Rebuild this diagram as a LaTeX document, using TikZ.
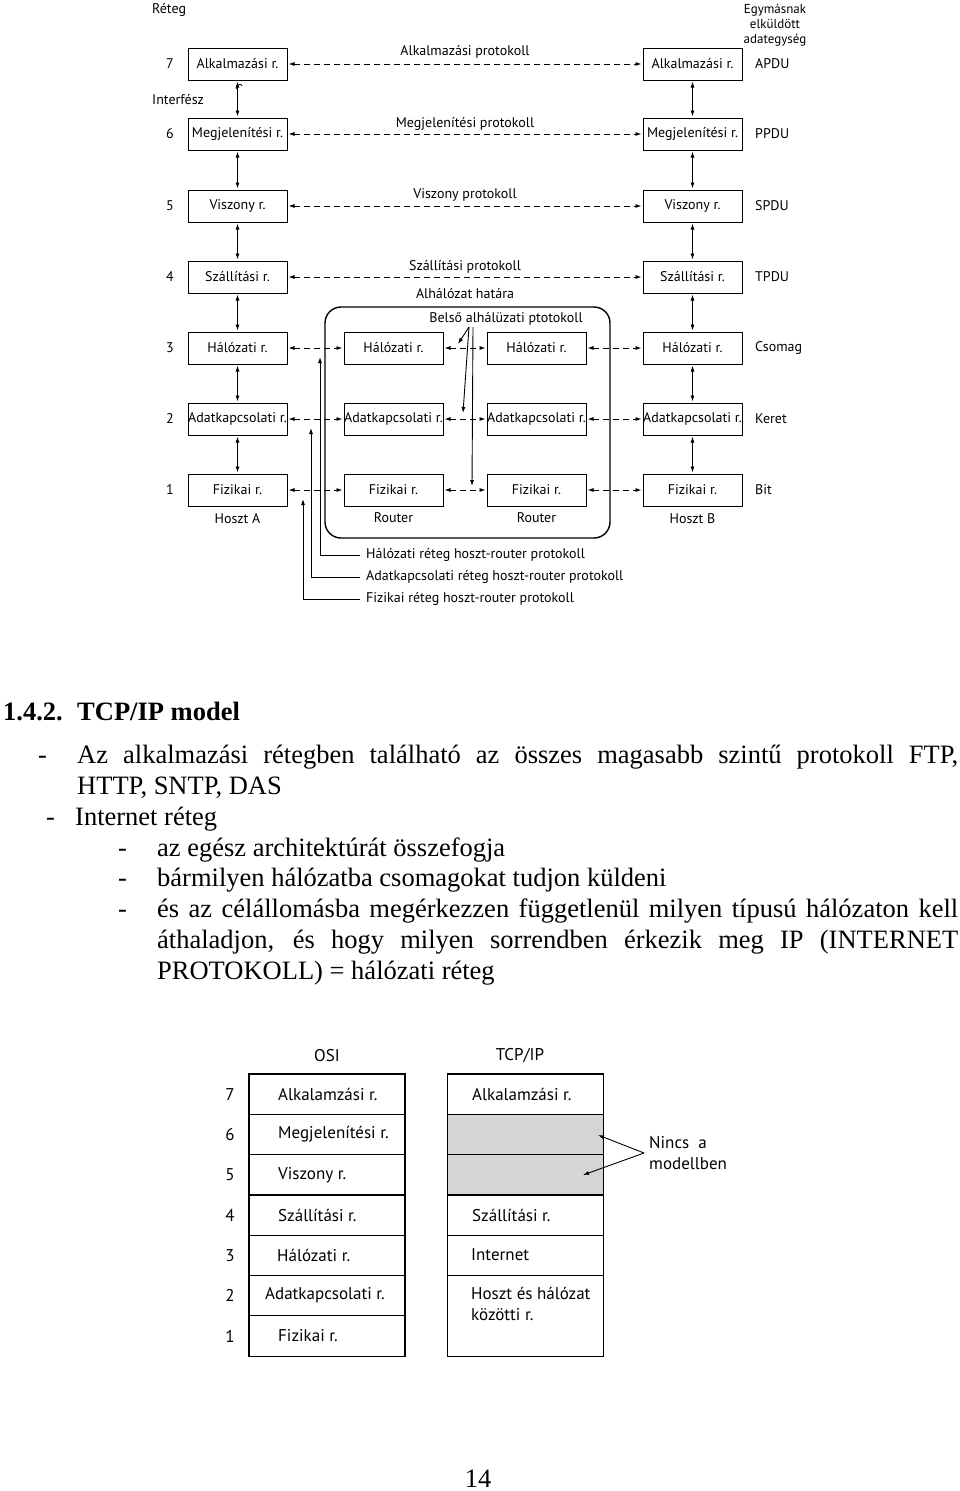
\documentclass[tikz,border=0pt]{standalone}
\usepackage{fontspec}
\setmainfont{Liberation Serif}
\newfontfamily\dfont{PT Sans}
\usetikzlibrary{arrows.meta}
\definecolor{nogray}{HTML}{D3D5D7}
\begin{document}
\begin{tikzpicture}[x=1pt,y=-1pt,
  >={Latex[length=6pt,width=4pt]},
  lay/.style={draw, line width=1pt, minimum width=99pt, minimum height=32pt, inner sep=0pt, font=\dfont\fontsize{14}{16}\selectfont},
  lbl/.style={font=\dfont\fontsize{14}{16}\selectfont, inner sep=0pt},
  darr/.style={<->, line width=0.9pt, dash pattern=on 6pt off 4pt, shorten <=1pt, shorten >=1pt},
  varr/.style={<->, line width=0.9pt, shorten <=1pt, shorten >=1pt},
  lead/.style={->, line width=0.9pt},
  body/.style={font=\fontsize{26.5}{31}\selectfont, inner sep=0pt, anchor=base west},
  cell/.style={draw, line width=1.2pt, minimum width=156pt, minimum height=40.3pt, inner sep=0pt},
  ctext/.style={font=\dfont\fontsize{17}{21}\selectfont, inner sep=0pt, anchor=west},
]
\useasboundingbox (0,0) rectangle (960,1491);
\fill[white] (0,0) rectangle (960,1491);

% ---------- top diagram ----------
\node[lbl, anchor=west] (reteg) at (152,10) {Réteg};
\node[lbl, anchor=west] (interf) at (152,100) {Interfész};
\node[lbl, align=center, font=\dfont\fontsize{13}{15}\selectfont] (egym) at (775,25) {Egymásnak\\elküldött\\adategység};

\foreach \n/\y in {7/64,6/134,5/206,4/277,3/348,2/419,1/490}
  \node[lbl] (num\n) at (170,\y) {\n};

\node[lay] (a7) at (237.5,64) {Alkalmazási r.};
\node[lay] (a6) at (237.5,134) {Megjelenítési r.};
\node[lay] (a5) at (237.5,206) {Viszony r.};
\node[lay] (a4) at (237.5,277) {Szállítási r.};
\node[lay] (a3) at (237.5,348) {Hálózati r.};
\node[lay] (a2) at (237.5,419) {Adatkapcsolati r.};
\node[lay] (a1) at (237.5,490) {Fizikai r.};

\node[lay] (b7) at (692.5,64) {Alkalmazási r.};
\node[lay] (b6) at (692.5,134) {Megjelenítési r.};
\node[lay] (b5) at (692.5,206) {Viszony r.};
\node[lay] (b4) at (692.5,277) {Szállítási r.};
\node[lay] (b3) at (692.5,348) {Hálózati r.};
\node[lay] (b2) at (692.5,419) {Adatkapcsolati r.};
\node[lay] (b1) at (692.5,490) {Fizikai r.};

\node[lay] (r3) at (393.5,348) {Hálózati r.};
\node[lay] (r2) at (393.5,419) {Adatkapcsolati r.};
\node[lay] (r1) at (393.5,490) {Fizikai r.};
\node[lay] (s3) at (536.5,348) {Hálózati r.};
\node[lay] (s2) at (536.5,419) {Adatkapcsolati r.};
\node[lay] (s1) at (536.5,490) {Fizikai r.};

\node[lbl, anchor=west] (apdu) at (755,64) {APDU};
\node[lbl, anchor=west] (ppdu) at (755,134) {PPDU};
\node[lbl, anchor=west] (spdu) at (755,206) {SPDU};
\node[lbl, anchor=west] (tpdu) at (755,277) {TPDU};
\node[lbl, anchor=west] (csom) at (755,348) {Csomag};
\node[lbl, anchor=west] (keret) at (755,419) {Keret};
\node[lbl, anchor=west] (bit) at (755,490) {Bit};

\node[lbl] (hosta) at (237.5,519) {Hoszt A};
\node[lbl] (hostb) at (692.5,519) {Hoszt B};
\node[lbl] (rt1) at (393.5,518) {Router};
\node[lbl] (rt2) at (536.5,518) {Router};

% subnet boundary
\draw[line width=1.4pt, rounded corners=16pt] (325,307) rectangle (610,538);
\node[lbl] (alh) at (465,294) {Alhálózat határa};
\node[lbl] (belso) at (506,319) {Belső alhálüzati ptotokoll};

% protocol labels
\node[lbl] (p7) at (465,52) {Alkalmazási protokoll};
\node[lbl] (p6) at (465,124) {Megjelenítési protokoll};
\node[lbl] (p5) at (465,195) {Viszony protokoll};
\node[lbl] (p4) at (465,267) {Szállítási protokoll};

% vertical interface arrows
\foreach \c in {a,b}{
  \draw[varr] (\c7) -- (\c6);
  \draw[varr] (\c6) -- (\c5);
  \draw[varr] (\c5) -- (\c4);
  \draw[varr] (\c4) -- (\c3);
  \draw[varr] (\c3) -- (\c2);
  \draw[varr] (\c2) -- (\c1);
}
\draw[line width=0.7pt] (236,89) .. controls (238,84) and (241,83) .. (242,86);

% horizontal dashed peer arrows
\foreach \n in {7,6,5,4} \draw[darr] (a\n) -- (b\n);
\foreach \n in {3,2,1}{
  \draw[darr] (a\n) -- (r\n);
  \draw[darr] (r\n) -- (s\n);
  \draw[darr] (s\n) -- (b\n);
}

% inner subnet protocol pointers
\coordinate (bp1) at (469,327);
\coordinate (bp2) at (473,327);
\coordinate (t3) at (458,344);
\coordinate (t2) at (463,413);
\coordinate (t1) at (472,486);
\draw[lead] (bp1) -- (t3);
\draw[lead] (bp1) -- (t2);
\draw[lead] (bp2) -- (t1);

% host-router protocol leaders
\node[lbl, anchor=west] (hrh) at (366,555) {Hálózati réteg hoszt-router protokoll};
\node[lbl, anchor=west] (hra) at (366,577) {Adatkapcsolati réteg hoszt-router protokoll};
\node[lbl, anchor=west] (hrf) at (366,599) {Fizikai réteg hoszt-router protokoll};
\coordinate (lh) at (320,357);
\coordinate (la) at (311,428);
\coordinate (lf) at (303,499);
\draw[lead] ([xshift=-6pt]hrh.west) -| (lh);
\draw[lead] ([xshift=-6pt]hra.west) -| (la);
\draw[lead] ([xshift=-6pt]hrf.west) -| (lf);

% ---------- text ----------
\node[body, font=\bfseries\fontsize{26.5}{31}\selectfont] (hnum) at (3,720) {1.4.2.};
\node[body, font=\bfseries\fontsize{26.5}{31}\selectfont] (htit) at (77,720) {TCP/IP model};

\node[body] (d1) at (38,763) {-};
\node[body] (l1) at (77,763) {\makebox[881pt][s]{Az alkalmazási rétegben található az összes magasabb szintű protokoll FTP,}};
\node[body] (l2) at (77,794) {HTTP, SNTP, DAS};
\node[body] (d2) at (46,825) {-};
\node[body] (l3) at (75,825) {Internet réteg};
\node[body] (d3) at (118,856) {-};
\node[body] (l4) at (157,856) {az egész architektúrát összefogja};
\node[body] (d4) at (118,886) {-};
\node[body] (l5) at (157,886) {bármilyen hálózatba csomagokat tudjon küldeni};
\node[body] (d5) at (118,917) {-};
\node[body] (l6) at (157,917) {\makebox[801pt][s]{és az célállomásba megérkezzen függetlenül milyen típusú hálózaton kell}};
\node[body] (l7) at (157,948) {\makebox[801pt][s]{áthaladjon, és hogy milyen sorrendben érkezik meg IP (INTERNET}};
\node[body] (l8) at (157,979) {PROTOKOLL) = hálózati réteg};

% ---------- bottom diagram ----------
\node[ctext, anchor=center] (osi) at (327,1056) {OSI};
\node[ctext, anchor=center] (tcp) at (520,1056) {TCP/IP};

\foreach \n/\y in {7/1094.15,6/1134.45,5/1174.75,4/1215.05,3/1255.35,2/1295.65,1/1335.95}{
  \node[cell] (o\n) at (327,\y) {};
  \node[ctext, anchor=center] (on\n) at (230,\y) {\n};
}
\node[ctext] (ot7) at (278,1094) {Alkalamzási r.};
\node[ctext] (ot6) at (278,1134) {Megjelenítési r.};
\node[ctext] (ot5) at (278,1175) {Viszony r.};
\node[ctext] (ot4) at (278,1215) {Szállítási r.};
\node[ctext] (ot3) at (277,1255) {Hálózati r.};
\node[ctext] (ot2) at (265,1295) {Adatkapcsolati r.};
\node[ctext] (ot1) at (278,1336) {Fizikai r.};

\node[cell] (c7) at (525.5,1094.15) {};
\node[cell, fill=nogray] (c6) at (525.5,1134.45) {};
\node[cell, fill=nogray] (c5) at (525.5,1174.75) {};
\node[cell] (c4) at (525.5,1215.05) {};
\node[cell] (c3) at (525.5,1255.35) {};
\node[cell, minimum height=80.6pt] (c1) at (525.5,1315.8) {};
\node[ctext] (ct7) at (472,1094) {Alkalamzási r.};
\node[ctext] (ct4) at (472,1215) {Szállítási r.};
\node[ctext] (ct3) at (471,1255) {Internet};
\node[ctext, anchor=north west, align=left] (ct1) at (471,1287) {Hoszt és hálózat\\közötti r.};

\node[ctext, anchor=west, align=left] (nincs) at (649,1153) {Nincs\ \ a\\modellben};
\coordinate (nc) at (644,1153);
\coordinate (nt1) at (598,1135);
\coordinate (nt2) at (583,1175);
\draw[lead] (nc) -- (nt1);
\draw[lead] (nc) -- (nt2);

\node[body, anchor=base] (pg) at (478,1487) {14};
\end{tikzpicture}
\end{document}
